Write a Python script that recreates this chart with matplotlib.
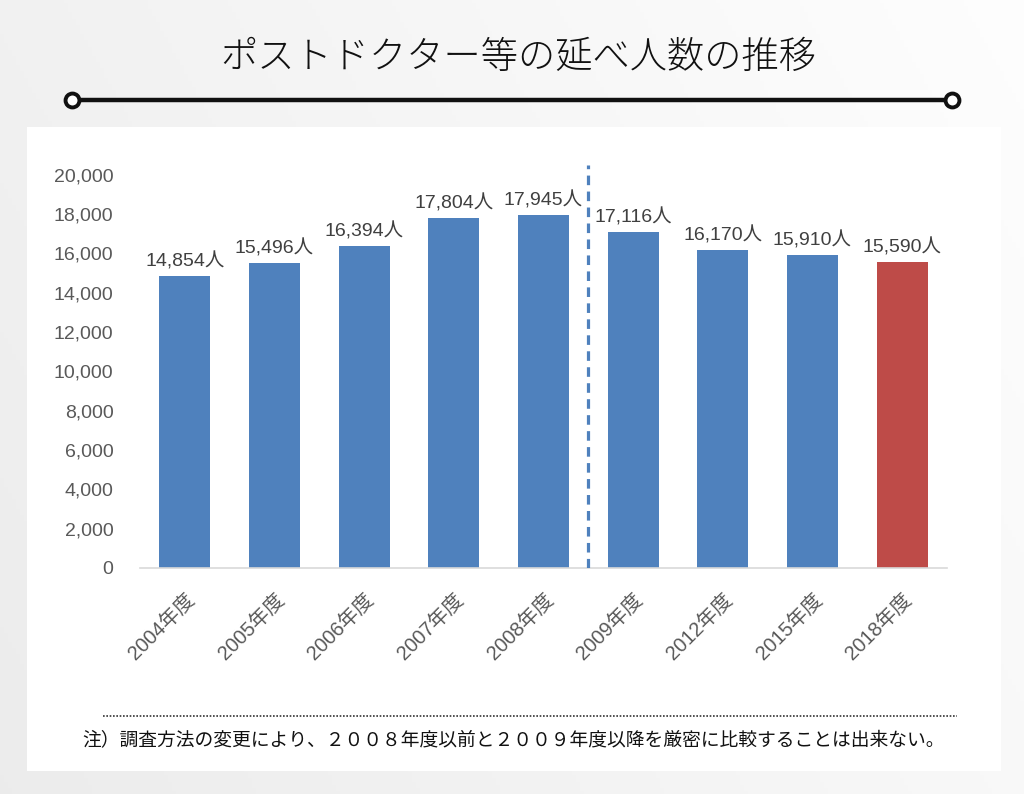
import matplotlib
matplotlib.use("Agg")
import matplotlib.pyplot as plt
import numpy as np
from matplotlib.patches import Rectangle
from matplotlib.lines import Line2D

plt.rcParams['font.family'] = ['Noto Sans CJK JP', 'DejaVu Sans']
NUMFONT = ['Liberation Sans', 'Noto Sans CJK JP']

categories = ['2004年度', '2005年度', '2006年度', '2007年度', '2008年度',
              '2009年度', '2012年度', '2015年度', '2018年度']
values = [14854, 15496, 16394, 17804, 17945, 17116, 16170, 15910, 15590]
yticks = [0, 2000, 4000, 6000, 8000, 10000, 12000, 14000, 16000, 18000, 20000]
title = 'ポストドクター等の延べ人数の推移'
note = '注）調査方法の変更により、２００８年度以前と２００９年度以降を厳密に比較することは出来ない。'

W, H = 1024, 794
fig = plt.figure(figsize=(W / 100, H / 100), dpi=100)

# background gradient
bg = fig.add_axes([0, 0, 1, 1], zorder=-10)
gx = np.linspace(0, 1, 256)
gy = np.linspace(0, 1, 256)
GX, GY = np.meshgrid(gx, gy)
grad = 0.925 + 0.07 * np.clip((GX * 0.7 + (1 - GY) * 0.3), 0, 1)
bg.imshow(np.dstack([grad, grad, grad]), extent=[0, 1, 0, 1], aspect='auto', origin='upper')
bg.set_xlim(0, 1)
bg.set_ylim(0, 1)
bg.axis('off')

# white panel
fig.patches.append(Rectangle((27 / W, 1 - 771 / H), (1001 - 27) / W, (771 - 127) / H,
                             transform=fig.transFigure, facecolor='white', edgecolor='none', zorder=-5))

# title
fig.text(518 / W, 1 - 58 / H, title, ha='center', va='center', fontsize=26.8, color='#111111',
         fontweight='light')

# decorative line with circles
yl = 1 - 100 / H
fig.add_artist(Line2D([72 / W, 952 / W], [yl, yl], transform=fig.transFigure, color='#111111', lw=3.2))
fig.add_artist(Line2D([72 / W, 952 / W], [yl, yl], transform=fig.transFigure, color='#111111', lw=0,
                      marker='o', markersize=10, markerfacecolor='white', markeredgewidth=2.8,
                      markeredgecolor='#111111'))

# dotted note line
yd = 1 - 716 / H
fig.add_artist(Line2D([103 / W, 957 / W], [yd, yd], transform=fig.transFigure, color='#333333',
                      lw=1.2, linestyle=(0, (1, 1))))
fig.text(514 / W, 1 - 741 / H, note, ha='center', va='center', fontsize=13.5, color='#111111')

# main chart
ax = fig.add_axes([140 / W, 1 - 568 / H, (947 - 140) / W, (568 - 165) / H])
x = np.arange(len(categories))
colors = ['#4F81BD'] * (len(categories) - 1) + ['#BE4B48']
bars = ax.bar(x, values, width=0.57, color=colors, zorder=2)
for xi, v in zip(x, values):
    ax.text(xi, v + 280, f'{v:,}人', ha='center', va='bottom', fontsize=14, color='#404040',
            family=NUMFONT)

ax.axvline(4.5, color='#4F81BD', lw=2.3, linestyle=(0, (3, 2)), ymin=0, ymax=1, zorder=3)

ax.set_xlim(-0.5, len(categories) - 0.5)
ax.set_ylim(0, 20500)
ax.set_yticks(yticks)
ax.set_yticklabels([f'{t:,}' for t in yticks], fontsize=14, color='#595959', family=NUMFONT)
ax.set_xticks(x)
ax.set_xticklabels(categories, rotation=45, ha='right', rotation_mode='anchor', fontsize=14.5,
                   color='#595959', family=NUMFONT)
for lab in ax.get_xticklabels():
    lab.set_x(lab.get_position()[0])
ax.tick_params(axis='both', length=0)
ax.tick_params(axis='y', pad=19)
ax.tick_params(axis='x', pad=16)
for s in ['top', 'right', 'left']:
    ax.spines[s].set_visible(False)
ax.spines['bottom'].set_color('#D9D9D9')
ax.spines['bottom'].set_linewidth(1.2)
ax.patch.set_alpha(0)

fig.savefig('out.png', dpi=100)
